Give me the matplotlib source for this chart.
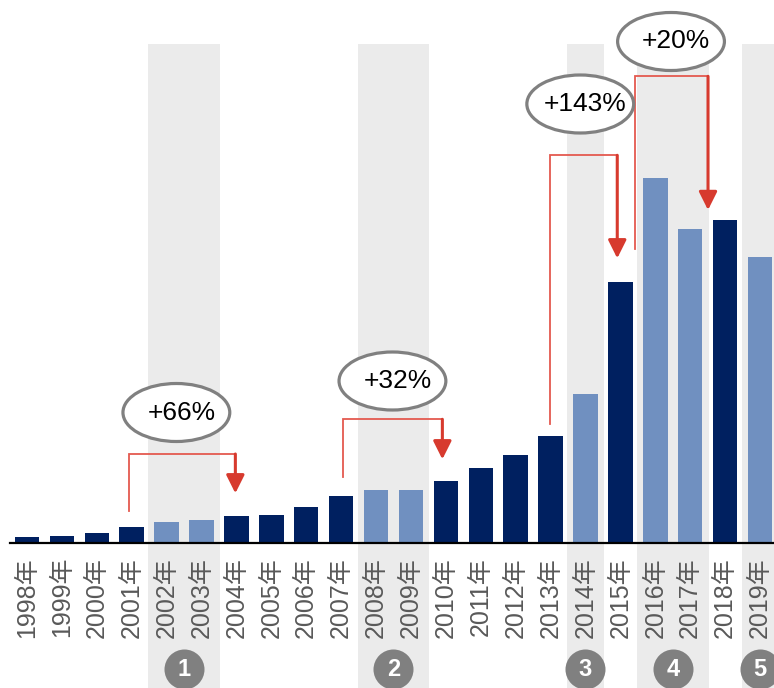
import matplotlib
matplotlib.use("Agg")
import matplotlib.pyplot as plt
from matplotlib.patches import Ellipse

# ---- data -------------------------------------------------------------
years = list(range(1998, 2020))
values = [5.7, 7.3, 10, 16, 21, 23, 26.7, 28, 36, 47.3, 53, 53, 62.3,
          74.7, 87.7, 107, 149, 260.7, 364.7, 314.3, 322.7, 286]
highlight_years = [2002, 2003, 2008, 2009, 2014, 2016, 2017, 2019]
period_spans = [(2002, 2003), (2008, 2009), (2014, 2014), (2016, 2017), (2019, 2019)]
period_labels = ["1", "2", "3", "4", "5"]
growth_labels = ["+66%", "+32%", "+143%", "+20%"]
growth_from = [2001, 2007, 2013, 2015]
growth_to = [2004, 2010, 2015, 2018]

# ---- styling ----------------------------------------------------------
DARK = "#002060"
LIGHT = "#7090c0"
BAND = "#ebebeb"
RED = "#d73a2e"
RED_THIN = "#e4594f"
GREY = "#808080"
LATIN = ["Liberation Sans", "Noto Sans CJK SC"]

# bracket geometry per growth callout (x offsets in bar units, y in value units)
# (start x offset, start y gap, bracket top, end x offset, arrow tip gap,
#  ellipse centre x, ellipse centre y)
bracket_layout = [
    (-0.07, 16, 89, -0.03, 23, 4.28, 130.5),
    (0.05, 19, 123.7, -0.1, 21.4, 10.47, 162),
    (-0.01, 11.7, 387.7, -0.09, 24, 15.85, 439),
    (0.41, 33.3, 466.7, -0.49, 10.3, 18.45, 501.5),
]
ELL_W, ELL_H = 3.06, 58

fig = plt.figure(figsize=(7.74, 6.88), dpi=100)
ax = fig.add_axes([9.5 / 774, 145 / 688, 1 - 9.5 / 774, 543 / 688])
ax.set_xlim(-0.5, 21.4)
ax.set_ylim(0, 543)

idx = {y: i for i, y in enumerate(years)}

# shaded period bands, running down through the label area
for (a, b) in period_spans:
    i0, i1 = idx[a], idx[b]
    ax.bar((i0 + i1) / 2, 499 + 160, bottom=-160, width=(i1 - i0 + 1) + 0.06,
           color=BAND, zorder=0, clip_on=False, linewidth=0)

# bars
colors = [LIGHT if y in highlight_years else DARK for y in years]
ax.bar(range(len(years)), values, width=0.7, color=colors, zorder=2, linewidth=0)

# numbered period markers below the labels
for (a, b), lab in zip(period_spans, period_labels):
    cx = (idx[a] + idx[b]) / 2
    ax.scatter([cx], [-126], s=830, color=GREY, zorder=5, clip_on=False, linewidths=0)
    ax.text(cx, -126, lab, color="white", fontsize=17, fontweight="bold",
            family=LATIN, ha="center", va="center", zorder=6, clip_on=False)

# growth brackets with arrows and ellipse labels
for lab, f, t, lay in zip(growth_labels, growth_from, growth_to, bracket_layout):
    sx_off, sgap, top, ex_off, tgap, ecx, ecy = lay
    x0 = idx[f] + sx_off
    y0 = values[idx[f]] + sgap
    x1 = idx[t] + ex_off
    tip = values[idx[t]] + tgap
    ax.plot([x0, x0, x1], [y0, top, top], color=RED_THIN, lw=1.3,
            zorder=3, solid_joinstyle="miter")
    ax.annotate("", xy=(x1, tip), xytext=(x1, top),
                arrowprops=dict(arrowstyle="-|>,head_length=1.1,head_width=0.55",
                                color=RED, lw=2.2, shrinkA=0, shrinkB=0),
                zorder=4)
    ax.add_patch(Ellipse((ecx, ecy), ELL_W, ELL_H, facecolor="white",
                         edgecolor=GREY, lw=2.3, zorder=5))
    ax.text(ecx + 0.15, ecy, lab, fontsize=19, family=LATIN, color="black",
            ha="center", va="center", zorder=6)

# axes styling
for s in ["top", "right", "left"]:
    ax.spines[s].set_visible(False)
ax.spines["bottom"].set_color("black")
ax.spines["bottom"].set_linewidth(1.6)
ax.spines["bottom"].set_zorder(4)
ax.set_yticks([])
ax.set_xticks(range(len(years)))
ax.set_xticklabels([f"{y}年" for y in years], rotation=90, fontsize=18,
                   color="#595959", family=LATIN, va="top", ha="center")
ax.tick_params(axis="x", length=0, pad=10)
ax.set_facecolor("none")

fig.savefig("out.png", dpi=100)
